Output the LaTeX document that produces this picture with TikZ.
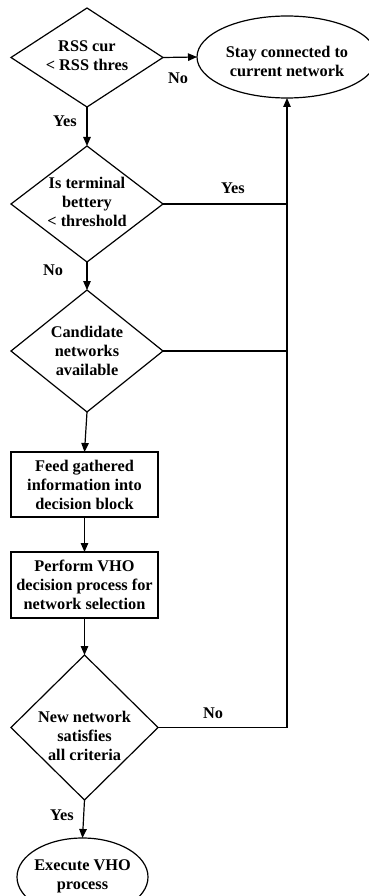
\documentclass[tikz,border=0pt]{standalone}
\usepackage{fontspec}
\setmainfont{Liberation Serif}
\usetikzlibrary{shapes.geometric,arrows.meta}
\begin{document}
\begin{tikzpicture}[x=1pt,y=-1pt,
  every node/.style={align=center, inner sep=0pt, outer sep=0pt, font=\fontsize{16.3}{19}\selectfont\bfseries},
  dec/.style={draw, line width=1.2pt, diamond},
  proc/.style={draw, line width=1.2pt, rectangle},
  term/.style={draw, line width=1.2pt, ellipse},
  arr/.style={line width=1.2pt, -{Triangle[length=9pt,width=7.5pt]}},
  conn/.style={line width=1.2pt}]
\clip (0,0) rectangle (369,896);
\node[dec, minimum width=152pt, minimum height=99pt] (d1) at (87,57.5) {};
\node (t1) at (87,56) {RSS cur\\< RSS thres};
\node[term, minimum width=180pt, minimum height=82pt] (e1) at (287,57) {};
\node (te1) at (287,61) {Stay connected to\\current network};
\node[dec, minimum width=152pt, minimum height=116pt] (d2) at (87,204) {};
\node (t2) at (87,202) {Is terminal\\bettery\\< threshold};
\node[dec, minimum width=152pt, minimum height=116pt] (d3) at (87,351) {Candidate\\networks\\available};
\node[proc, minimum width=147pt, minimum height=65pt] (b1) at (84.5,484.5) {Feed gathered\\information into\\decision block};
\node[proc, minimum width=147pt, minimum height=66pt] (b2) at (84.5,585) {Perform VHO\\decision process for\\network selection};
\node[dec, minimum width=147pt, minimum height=145pt] (d4) at (84.5,727.5) {};
\node (t4) at (84.5,736) {New network\\satisfies\\all criteria};
\node[term, minimum width=131pt, minimum height=78pt] (e2) at (82.5,877) {};
\node (te2) at (82.5,876) {Execute VHO\\process};

\draw[arr] (d1.east) -- (e1.west);
\draw[arr] (d1.south) -- (d2.north);
\draw[arr] (d2.south) -- (d3.north);
\draw[arr] (d3.south) -- (b1.north);
\draw[arr] (b1.south) -- (b2.north);
\draw[arr] (b2.south) -- (d4.north);
\draw[arr] (d4.south) -- (e2.north);
\draw[arr] (d4.east) -| (e1.south);
\draw[conn] (d2.east) -- (d2.east -| e1.south);
\draw[conn] (d3.east) -- (d3.east -| e1.south);

\node (l1) at (178,78) {No};
\node (l2) at (65,121) {Yes};
\node (l3) at (233,188) {Yes};
\node (l4) at (53,270) {No};
\node (l5) at (213,713) {No};
\node (l6) at (62,815) {Yes};
\end{tikzpicture}
\end{document}
